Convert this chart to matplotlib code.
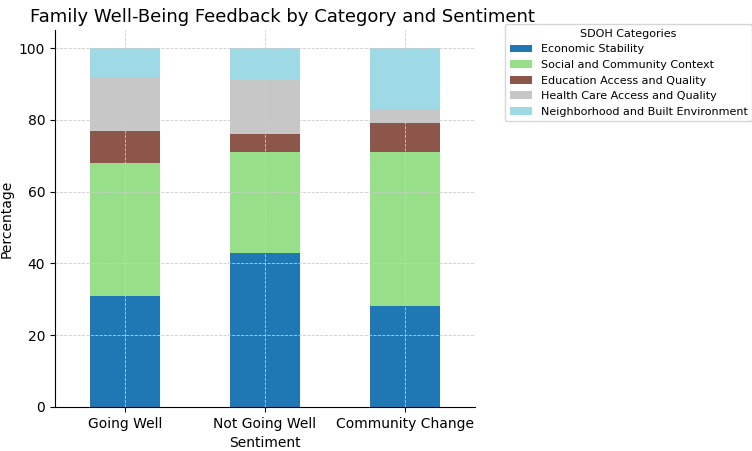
import matplotlib.pyplot as plt
import numpy as np

# data
sentiments = ['Going Well', 'Not Going Well', 'Community Change']
categories = ['Economic Stability', 'Social and Community Context',
              'Education Access and Quality', 'Health Care Access and Quality',
              'Neighborhood and Built Environment']
economic = [31, 43, 28]
social = [37, 28, 43]
education = [9, 5, 8]
health = [15, 15, 4]
neighborhood = [8, 9, 17]
series = [economic, social, education, health, neighborhood]
colors = ['#1f77b4', '#98df8a', '#8c564b', '#c7c7c7', '#9edae5']

fig = plt.figure(figsize=(7.52, 4.51), dpi=100)
ax = fig.add_axes([0.073, 0.098, 0.558, 0.835])

x = np.arange(len(sentiments))
bottom = np.zeros(len(sentiments))
for vals, name, c in zip(series, categories, colors):
    ax.bar(x, vals, 0.5, bottom=bottom, color=c, label=name, zorder=2)
    bottom += np.array(vals)

ax.set_xticks(x)
ax.set_xticklabels(sentiments, fontsize=10)
ax.tick_params(axis='y', labelsize=10)
ax.set_xlim(-0.5, 2.5)
ax.set_ylim(0, 105)
ax.set_xlabel('Sentiment', fontsize=10)
ax.set_ylabel('Percentage', fontsize=10)
ax.set_title('Family Well-Being Feedback by Category and Sentiment', fontsize=13, loc='left', x=-0.06)
ax.grid(True, linestyle='--', linewidth=0.6, color='#cccccc', zorder=3)
ax.set_axisbelow(False)
ax.spines['top'].set_visible(False)
ax.spines['right'].set_visible(False)

ax.legend(title='SDOH Categories', loc='upper left', bbox_to_anchor=(1.06, 1.03),
          fontsize=8, title_fontsize=8)

fig.savefig('out.png', dpi=100)
